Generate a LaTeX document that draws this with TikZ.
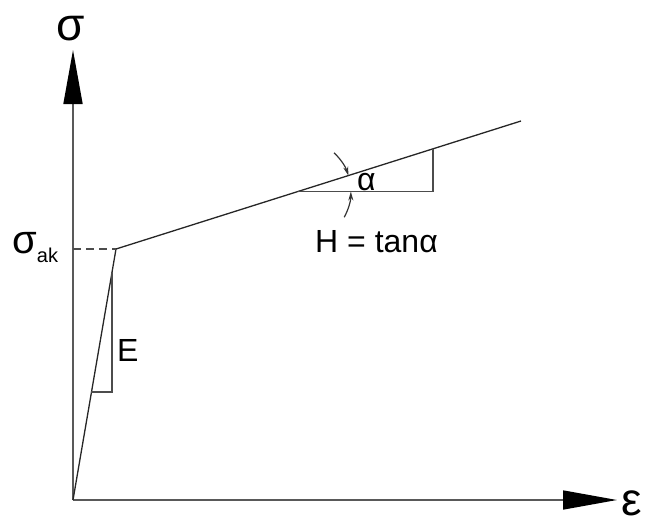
\documentclass[tikz,border=0pt]{standalone}
\usepackage{fontspec}
\setmainfont{Liberation Sans}
\usetikzlibrary{arrows.meta, calc}

\begin{document}
\begin{tikzpicture}[x=1pt, y=-1pt,
    axis/.style={draw=black!65, line width=1.6pt, -{Triangle[length=54pt, width=19pt, color=black]}},
    curve/.style={draw=black!85, line width=1.3pt},
    helper/.style={draw=black!70, line width=1.3pt},
    anglearr/.style={draw=black!80, line width=1.2pt, -{Stealth[length=9pt, width=5pt]}},
    lbl/.style={inner sep=0pt, font=\fontsize{32}{32}\selectfont}
]
\useasboundingbox (0,0) rectangle (649,528);

\coordinate (O) at (73,500);
\coordinate (Ytop) at (73,50);
\coordinate (Xend) at (617,500);
\coordinate (Yld) at (116,249);
\coordinate (Yax) at (73,249);
\coordinate (End) at (521,121);

\draw[axis] (O) -- (Ytop);
\draw[axis] (O) -- (Xend);
\draw[curve] (O) -- (Yld) -- (End);
\draw[helper, dash pattern=on 8pt off 5pt] (Yax) -- (Yld);

% E triangle
\coordinate (Ea) at ($(O)!0.43!(Yld)$);
\coordinate (Eb) at ($(O)!0.908!(Yld)$);
\coordinate (Ec) at (Eb |- Ea);
\draw[helper] (Ea) -- (Ec) -- (Eb);

% H triangle
\coordinate (Ha) at ($(Yld)!0.449!(End)$);
\coordinate (Hb) at ($(Yld)!0.783!(End)$);
\coordinate (Hc) at (Hb |- Ha);
\draw[helper] (Ha) -- (Hc) -- (Hb);
\draw[anglearr] ($(Ha)+(-47:53)$) arc[start angle=-47, end angle=-17.5, radius=53];
\draw[anglearr] ($(Ha)+(29:53)$) arc[start angle=29, end angle=0, radius=53];

\node[lbl, font=\fontsize{46}{46}\selectfont, anchor=base] (sig) at (70.5,40) {σ};
\node[lbl, font=\fontsize{46}{46}\selectfont, anchor=base west] (eps) at (621,515) {ε};
\node[lbl, anchor=base west] (sak) at (12,253) {{\fontsize{40}{40}\selectfont σ}{\fontsize{20}{20}\selectfont\raisebox{-9pt}{ak}}};
\node[lbl, anchor=base west] (E) at (117,361) {E};
\node[lbl, anchor=base west] (alpha) at (357,190) {α};
\node[lbl, anchor=base] (H) at (376.5,252) {H = tanα};
\end{tikzpicture}
\end{document}
